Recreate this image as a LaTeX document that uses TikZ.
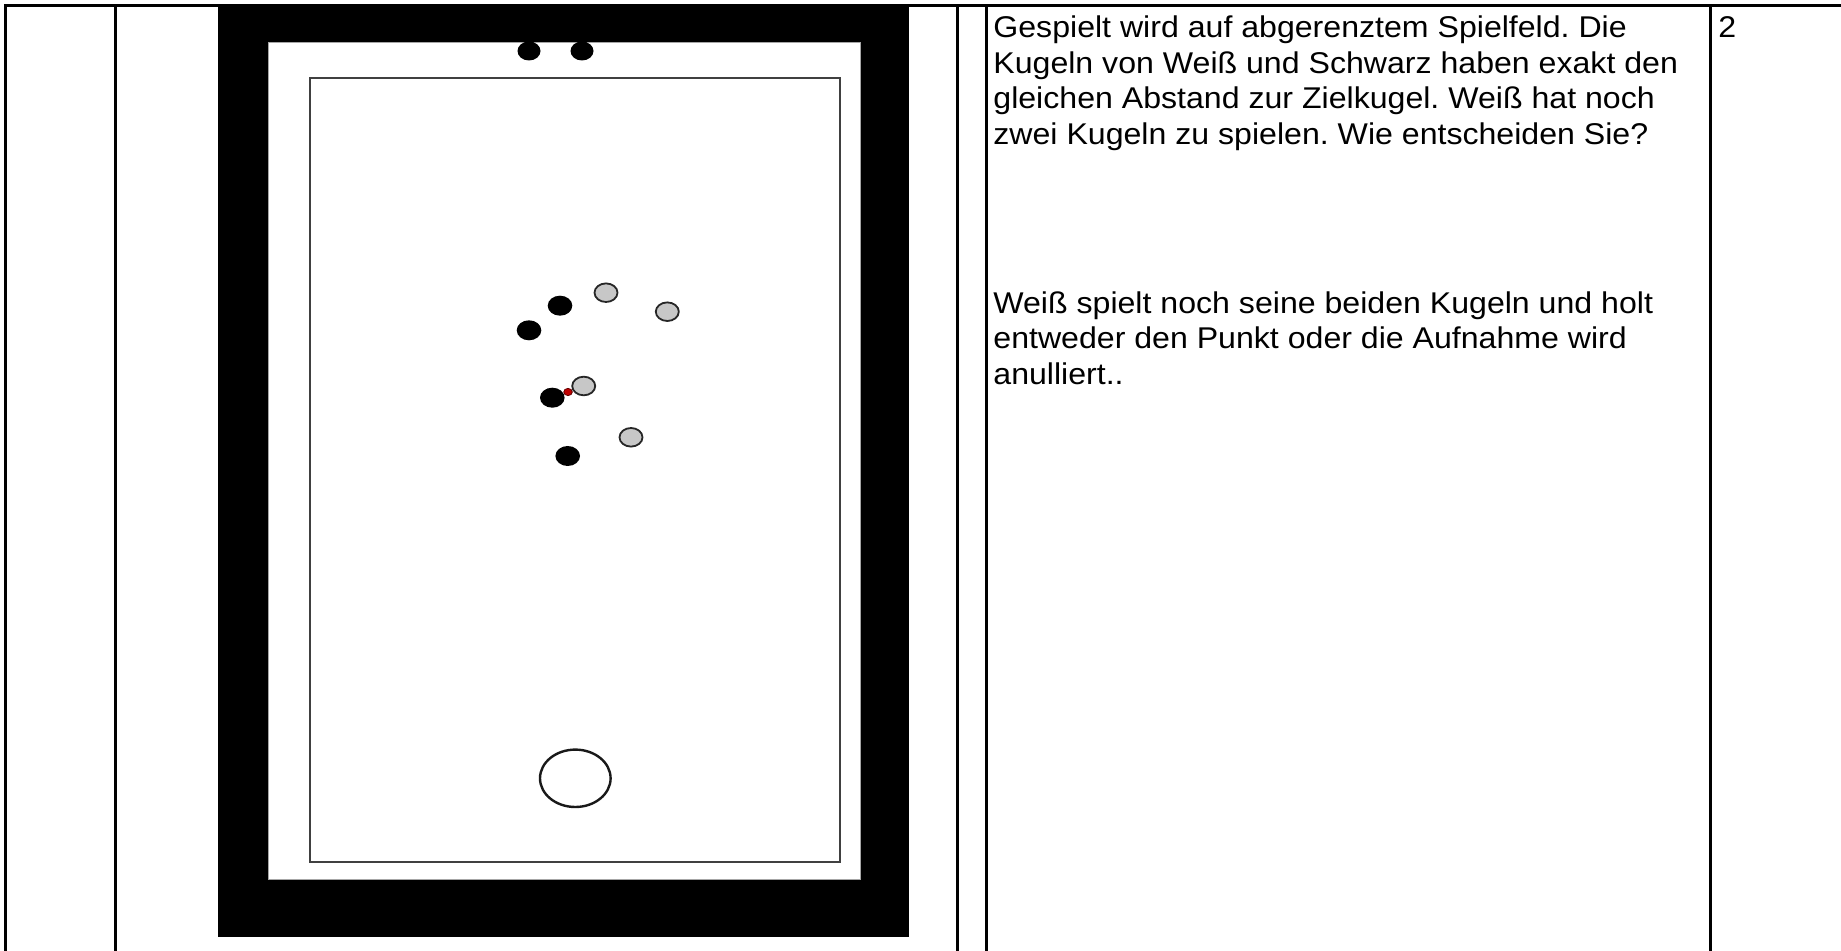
\documentclass[tikz,border=0pt]{standalone}
\usepackage{fontspec}
\setmainfont{Liberation Sans}
\frenchspacing
\begin{document}
\begin{tikzpicture}[x=0.5pt,y=-0.5pt,
  tline/.style={line width=1.5pt},
  blackball/.style={fill=black},
  greyball/.style={fill=black!22, draw=black!85, line width=0.9pt},
  txt/.style={anchor=base west, inner sep=0pt, font=\fontsize{15}{18}\selectfont}]
\useasboundingbox (0,0) rectangle (1841,951);
\fill[white] (0,0) rectangle (1841,951);
% table lines
\draw[tline] (4,5.5) -- (1841,5.5);
\foreach \xx in {5,115,957,986,1710} \draw[tline] (\xx,4.75) -- (\xx,951);
% board
\fill[black] (218,4) rectangle (909,937);
\filldraw[fill=white, draw=black!35, line width=0.5pt] (268,43) rectangle (860,879);
\draw[draw=black!75, line width=0.9pt] (310,78) rectangle (840,862);
% balls at the top edge
\fill[blackball] (529,51) ellipse [x radius=11.5, y radius=9.5];
\fill[blackball] (582,51) ellipse [x radius=11.5, y radius=9.5];
% black balls
\fill[blackball] (560,305.7) ellipse [x radius=12.3, y radius=10];
\fill[blackball] (529,330.3) ellipse [x radius=12.3, y radius=10];
\fill[blackball] (552.3,397.7) ellipse [x radius=12.3, y radius=10];
\fill[blackball] (567.7,456) ellipse [x radius=12.3, y radius=10];
% grey balls
\filldraw[greyball] (606,292.7) ellipse [x radius=11.5, y radius=9.3];
\filldraw[greyball] (667.3,311.7) ellipse [x radius=11.5, y radius=9.3];
\filldraw[greyball] (583.7,386) ellipse [x radius=11.5, y radius=9.3];
\filldraw[greyball] (631,437.3) ellipse [x radius=11.5, y radius=9.3];
% target ball
\filldraw[fill=red!75!black, draw=red!40!black, line width=0.4pt] (568,392) ellipse [x radius=4.3, y radius=3.6];
% circle
\draw[line width=1.2pt, draw=black!90] (575.3,778.3) ellipse [x radius=35.3, y radius=28.7];
% text
\node[txt] (p1a) at (993,38) {\scalebox{1.07}[1]{Gespielt wird auf abgerenztem Spielfeld. Die}};
\node[txt] (p1b) at (993,73.5) {\scalebox{1.07}[1]{Kugeln von Weiß und Schwarz haben exakt den}};
\node[txt] (p1c) at (993,109) {\scalebox{1.07}[1]{gleichen Abstand zur Zielkugel. Weiß hat noch}};
\node[txt] (p1d) at (993,144.5) {\scalebox{1.07}[1]{zwei Kugeln zu spielen. Wie entscheiden Sie?}};
\node[txt] (p2a) at (993,313.5) {\scalebox{1.07}[1]{Weiß spielt noch seine beiden Kugeln und holt}};
\node[txt] (p2b) at (993,349) {\scalebox{1.07}[1]{entweder den Punkt oder die Aufnahme wird}};
\node[txt] (p2c) at (993,384.5) {\scalebox{1.07}[1]{anulliert..}};
\node[txt] (num) at (1718,38) {\scalebox{1.07}[1]{2}};
\end{tikzpicture}
\end{document}
